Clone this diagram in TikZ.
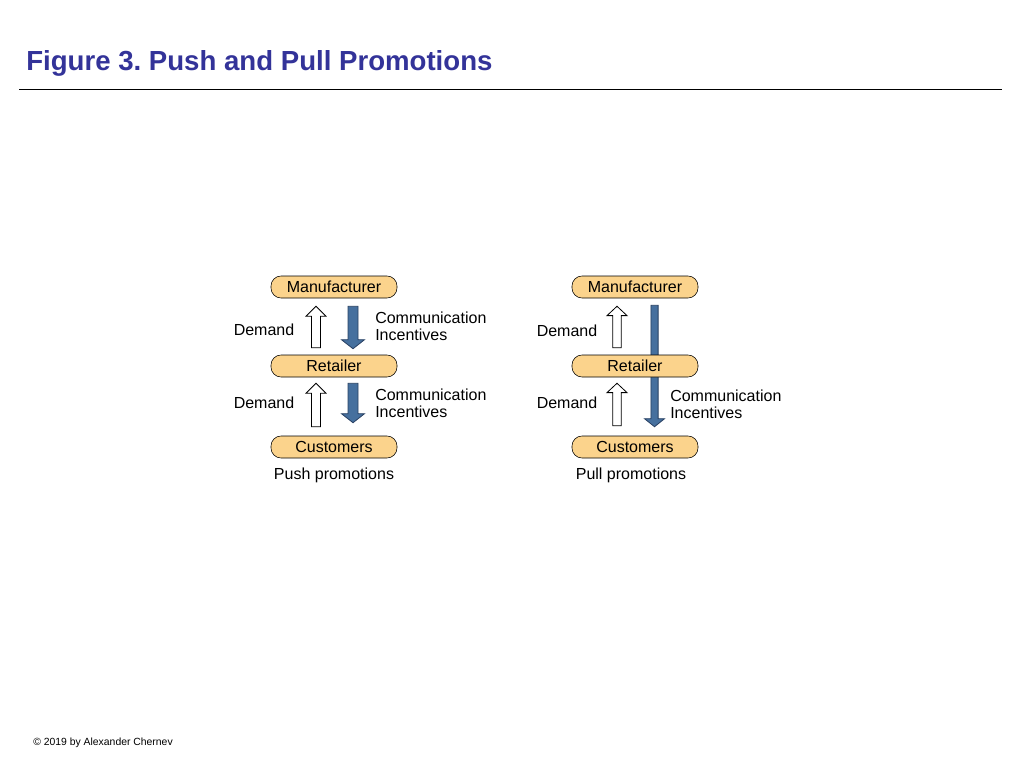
\documentclass[tikz,border=0pt]{standalone}
\usepackage{fontspec}
\setmainfont{Liberation Sans}
\usepackage{xcolor}
\usetikzlibrary{calc, backgrounds}

\definecolor{titleblue}{RGB}{51,51,153}
\definecolor{boxfill}{RGB}{251,211,140}
\definecolor{arrowblue}{RGB}{70,112,158}
\definecolor{arrowline}{RGB}{40,64,98}

% vertical block arrow: style, tail, tip, half shaft, half head, head length
\newcommand\blockarrow[6]{%
  \draw[#1] let \p1=(#2), \p2=(#3), \n1={sign(\y2-\y1)} in
    (\x1-#4,\y1) -- (\x1-#4,\y2-\n1*#6) -- (\x1-#5,\y2-\n1*#6) -- (\x2,\y2)
    -- (\x1+#5,\y2-\n1*#6) -- (\x1+#4,\y2-\n1*#6) -- (\x1+#4,\y1) -- cycle;}

\begin{document}
\frenchspacing
\begin{tikzpicture}[
  x=0.75pt, y=-0.75pt,
  box/.style={draw, fill=boxfill, rounded corners=7.5pt, minimum width=94.5pt, minimum height=16.5pt, inner sep=0pt, font=\fontsize{12}{13}\selectfont},
  lbl/.style={font=\fontsize{12}{12.75}\selectfont, inner sep=0pt, align=left},
  hollow/.style={draw, fill=white, line width=0.6pt},
  solid/.style={draw=arrowline, fill=arrowblue, line width=0.6pt}
]
  \useasboundingbox (0,0) rectangle (1024,768);

  \node[anchor=west, inner sep=0pt, text=titleblue, font=\fontsize{20.7}{24}\bfseries\selectfont] (title) at (26,63) {Figure 3. Push and Pull Promotions};
  \coordinate (rulel) at (19,89);
  \coordinate (ruler) at (1002,89);
  \draw[line width=0.75pt] (rulel) -- (ruler);

  % push side
  \node[box] (lman) at (334,287) {Manufacturer};
  \node[box] (lret) at (334,366) {Retailer};
  \node[box] (lcus) at (334,447) {Customers};
  \node[lbl] (lcap) at (334,475) {Push promotions};

  \blockarrow{hollow}{$(lret.north)+(-18,-7)$}{$(lman.south)+(-18,8)$}{3.4pt}{7.5pt}{7.5pt}
  \blockarrow{solid}{$(lman.south)+(19,8)$}{$(lret.north)+(19,-6)$}{3.75pt}{8.6pt}{6.75pt}
  \blockarrow{hollow}{$(lcus.north)+(-18,-9)$}{$(lret.south)+(-18,6)$}{3.4pt}{7.5pt}{7.5pt}
  \blockarrow{solid}{$(lret.south)+(19,6)$}{$(lcus.north)+(19,-13)$}{3.75pt}{8.6pt}{6.75pt}

  \node[lbl] (ldem1) at (264,330) {Demand};
  \node[lbl] (ldem2) at (264,403) {Demand};
  \node[lbl, anchor=west] (lcom1) at (375,326.5) {Communication\\Incentives};
  \node[lbl, anchor=west] (lcom2) at (375,403.5) {Communication\\Incentives};

  % pull side
  \node[box] (rman) at (635,287) {Manufacturer};
  \node[box] (rret) at (635,366) {Retailer};
  \node[box] (rcus) at (635,447) {Customers};
  \node[lbl] (rcap) at (631,475) {Pull promotions};

  \begin{pgfonlayer}{background}
    \blockarrow{solid}{$(rman.south)+(19.5,7)$}{$(rcus.north)+(19.5,-9)$}{2.7pt}{7.5pt}{6pt}
  \end{pgfonlayer}
  \blockarrow{hollow}{$(rret.north)+(-18,-7)$}{$(rman.south)+(-18,8)$}{3.2pt}{7.5pt}{7pt}
  \blockarrow{hollow}{$(rcus.north)+(-18,-10)$}{$(rret.south)+(-18,6)$}{3.2pt}{7.5pt}{7pt}

  \node[lbl] (rdem1) at (567,331) {Demand};
  \node[lbl] (rdem2) at (567,403) {Demand};
  \node[lbl, anchor=west] (rcom) at (670,404) {Communication\\Incentives};

  \node[anchor=west, inner sep=0pt, font=\fontsize{7.8}{9}\selectfont] (copy) at (33,743) {\textcopyright{} 2019 by Alexander Chernev};
\end{tikzpicture}
\end{document}
